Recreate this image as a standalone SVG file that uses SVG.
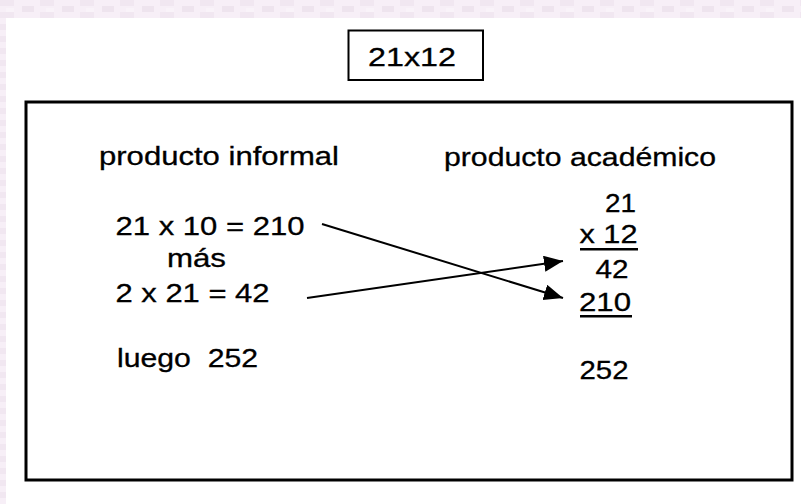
<svg xmlns="http://www.w3.org/2000/svg" width="801" height="504" viewBox="0 0 801 504">
<defs>
<style>
.t{font-family:"Liberation Sans",Arial,sans-serif;font-size:25.5px;fill:#000;stroke:#000;stroke-width:0.3;white-space:pre}
.box{fill:none;stroke:#000}
.conn{stroke:#000;stroke-width:2;fill:none}
</style>
<marker id="ah" markerUnits="userSpaceOnUse" markerWidth="20" markerHeight="18" refX="19" refY="8" orient="auto">
<path d="M0,0 L19,8 L0,16 Z" fill="#000"/>
</marker>
<pattern id="bg" width="40" height="12" patternUnits="userSpaceOnUse">
<rect width="40" height="12" fill="#f7eff7"/>
<rect x="0" y="0" width="14" height="6" fill="#f1e7f1"/>
<rect x="22" y="6" width="12" height="6" fill="#eee4ee"/>
<rect x="6" y="8" width="8" height="4" fill="#f9f3f9"/>
</pattern>
</defs>
<rect width="801" height="504" fill="url(#bg)"/>
<rect x="6" y="18" width="795" height="486" fill="#fff"/>

<g id="title">
<rect class="box" x="348.5" y="30.5" width="134.5" height="49.5" stroke-width="2"/>
<text class="t" x="368" y="66" style="font-size:26.5px" textLength="88" lengthAdjust="spacingAndGlyphs">21x12</text>
</g>

<g id="frame">
<rect class="box" x="26" y="102" width="766" height="378" stroke-width="3"/>
</g>

<g id="informal">
<text class="t" x="99" y="165" textLength="240" lengthAdjust="spacingAndGlyphs">producto informal</text>
<text class="t" x="115.5" y="235" textLength="189" lengthAdjust="spacingAndGlyphs">21 x 10 = 210</text>
<text class="t" x="167" y="267" textLength="59" lengthAdjust="spacingAndGlyphs">más</text>
<text class="t" x="115.5" y="302" textLength="154" lengthAdjust="spacingAndGlyphs">2 x 21 = 42</text>
<text class="t" x="117" y="367" xml:space="preserve" textLength="141" lengthAdjust="spacingAndGlyphs">luego  252</text>
</g>

<g id="academico">
<text class="t" x="444" y="166" textLength="272" lengthAdjust="spacingAndGlyphs">producto académico</text>
<text class="t" x="605" y="212" textLength="31" lengthAdjust="spacingAndGlyphs">21</text>
<text class="t" x="579.5" y="243" textLength="58" lengthAdjust="spacingAndGlyphs">x 12</text>
<rect x="580" y="248" width="58" height="2.5" fill="#000"/>
<text class="t" x="595.5" y="278" textLength="33" lengthAdjust="spacingAndGlyphs">42</text>
<text class="t" x="579" y="311" textLength="52" lengthAdjust="spacingAndGlyphs">210</text>
<rect x="580" y="315" width="52" height="2.5" fill="#000"/>
<text class="t" x="579.5" y="379" textLength="49" lengthAdjust="spacingAndGlyphs">252</text>
</g>

<g id="connectors">
<line class="conn" x1="322" y1="224" x2="563" y2="298" marker-end="url(#ah)"/>
<line class="conn" x1="307" y1="298" x2="563" y2="261" marker-end="url(#ah)"/>
</g>
</svg>
